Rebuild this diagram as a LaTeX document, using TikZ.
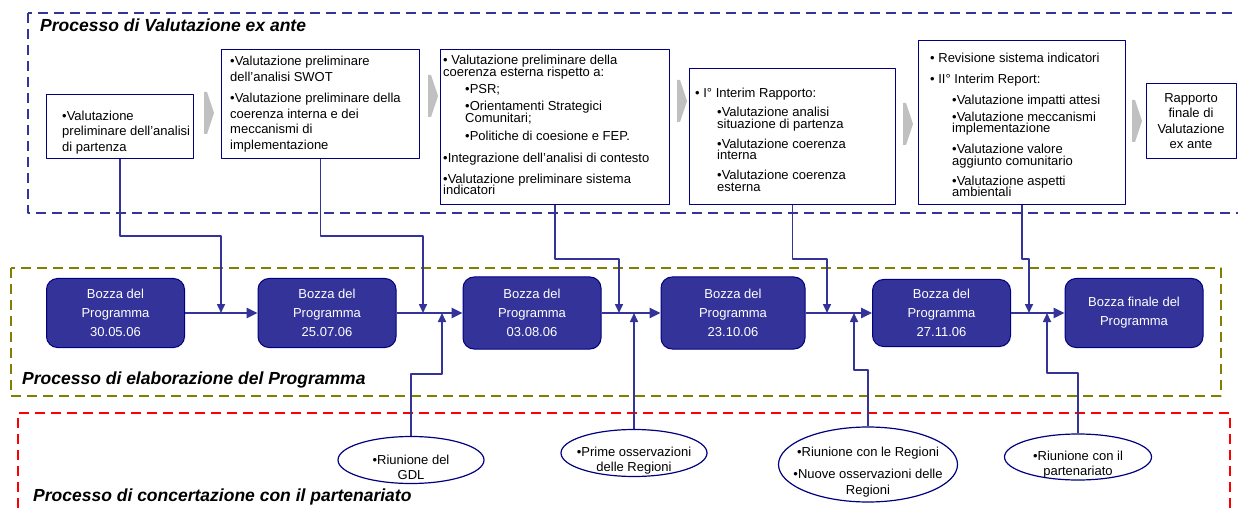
\documentclass[tikz,border=0pt]{standalone}
\usepackage{fontspec}
\setmainfont{Liberation Sans}
\usetikzlibrary{arrows.meta,shapes.geometric,positioning}
\definecolor{navy}{HTML}{000080}
\definecolor{viola}{HTML}{333399}
\definecolor{oliva}{HTML}{808000}
\definecolor{grigio}{HTML}{C0C0C0}
\setlength{\lineskiplimit}{-50pt}
\newcommand{\rientro}{\hspace*{22pt}}
\begin{document}
\begin{tikzpicture}[x=1pt,y=-1pt,line join=round,>={Triangle[length=9pt,width=8pt]},
	riquadro/.style={draw=navy,line width=1.2pt,fill=white,anchor=north west,inner sep=0pt},
	testo/.style={align=left,anchor=north west,inner sep=0pt,font=\fontsize{13}{15.5}\selectfont},
	stretto/.style={testo,font=\fontsize{13}{11.7}\selectfont},
	bozza/.style={draw=navy,fill=viola,line width=1pt,rounded corners=11pt,text=white,align=center,
		minimum width=138pt,minimum height=69pt,inner sep=0pt,font=\fontsize{13}{19}\selectfont},
	riunione/.style={ellipse,draw=navy,line width=1.2pt,fill=white,inner sep=0pt,minimum width=146pt,minimum height=47pt},
	dentro/.style={testo,align=center,anchor=center,yshift=-7.5pt},
	principale/.style={viola,line width=2.5pt,-{Triangle[length=11pt,width=10pt]}},
	ramo/.style={viola,line width=1.6pt,->},
	cornice/.style={line width=2pt,dash pattern=on 10pt off 6pt},
	titolo/.style={anchor=base west,inner sep=0pt,font=\fontsize{17.5}{20}\selectfont\bfseries\itshape}]
	\useasboundingbox (0,0) rectangle (1238,510);
	\clip (0,0) rectangle (1238,510);
	% cornici dei tre processi
	\draw[cornice,viola] (28,13) rectangle (1262,213);
	\draw[cornice,oliva] (11,268) rectangle (1221,396);
	\draw[cornice,red] (18,540) rectangle (1230,413);
	\node[titolo] (tv) at (40,32) {Processo di Valutazione ex ante};
	\node[titolo] (te) at (22,384) {Processo di elaborazione del Programma};
	\node[titolo] (tc) at (33,501) {Processo di concertazione con il partenariato};
	% valutazione ex ante
	\node[riquadro,minimum width=147pt,minimum height=64pt] (v1) at (46,94) {};
	\node[riquadro,minimum width=198pt,minimum height=109pt] (v2) at (221,49) {};
	\node[riquadro,minimum width=229pt,minimum height=155pt] (v3) at (440,49) {};
	\node[riquadro,minimum width=206pt,minimum height=136pt] (v4) at (689,68) {};
	\node[riquadro,minimum width=207pt,minimum height=164pt] (v5) at (918,40) {};
	\node[riquadro,minimum width=90pt,minimum height=75pt] (v6) at (1146,83) {};
	\node[testo] (t1) at (62,110.5) {•Valutazione\\preliminare dell’analisi\\di partenza};
	\node[testo] (t2) at (230,56) {•Valutazione preliminare\\dell’analisi SWOT\\[6pt]•Valutazione preliminare della\\coerenza interna e dei\\meccanismi di\\implementazione};
	\node[stretto] (t3) at (443,55) {• Valutazione preliminare della\\coerenza esterna rispetto a:\\[5.5pt]\rientro•PSR;\\[5.5pt]\rientro•Orientamenti Strategici\\\rientro Comunitari;\\[6.5pt]\rientro•Politiche di coesione e FEP.\\[10.5pt]•Integrazione dell’analisi di contesto\\[8.5pt]•Valutazione preliminare sistema\\indicatori};
	\node[stretto] (t4) at (695,87.5) {• I° Interim Rapporto:\\[8pt]\rientro•Valutazione analisi\\\rientro situazione di partenza\\[8pt]\rientro•Valutazione coerenza\\\rientro interna\\[8pt]\rientro•Valutazione coerenza\\\rientro esterna};
	\node[stretto] (t5) at (930,52.5) {• Revisione sistema indicatori\\[10pt]• II° Interim Report:\\[9pt]\rientro•Valutazione impatti attesi\\[5pt]\rientro•Valutazione meccanismi\\\rientro implementazione\\[9pt]\rientro•Valutazione valore\\\rientro aggiunto comunitario\\[8pt]\rientro•Valutazione aspetti\\\rientro ambientali};
	\node[testo,align=center,anchor=north] (t6) at (1191,93) {Rapporto\\finale di\\Valutazione\\ex ante};
	\foreach \cx/\cy in {204/92,428/75,677/80,903/103,1132/100}
		\fill[grigio] (\cx,\cy) -- ++(3,0) -- ++(7,21) -- ++(-7,21) -- ++(-3,0) -- cycle;
	% elaborazione del programma
	\node[bozza] (p1) at (115.5,313) {Bozza del\\Programma\\30.05.06};
	\node[bozza] (p2) at (327,313) {Bozza del\\Programma\\25.07.06};
	\node[bozza,minimum height=72pt] (p3) at (532,313) {Bozza del\\Programma\\03.08.06};
	\node[bozza,minimum width=144pt,minimum height=72pt] (p4) at (733,313) {Bozza del\\Programma\\23.10.06};
	\node[bozza,minimum height=67pt] (p5) at (941.5,313) {Bozza del\\Programma\\27.11.06};
	\node[bozza] (p6) at (1134,313) {Bozza finale del\\Programma};
	\foreach \a/\b in {p1/p2,p2/p3,p3/p4,p4/p5,p5/p6}
		\draw[principale] (\a) -- (\b);
	% concertazione
	\node[riunione] (r1) at (411,460) {};
	\node[riunione] (r2) at (634,453) {};
	\node[riunione,minimum width=179pt,minimum height=75pt] (r3) at (868,464.5) {};
	\node[riunione,minimum width=147pt,minimum height=46pt] (r4) at (1078,457) {};
	\node[dentro] (u1) at (r1) {•Riunione del\\GDL};
	\node[dentro] (u2) at (r2) {•Prime osservazioni\\delle Regioni};
	\node[dentro] (u3) at (r3) {•Riunione con le Regioni\\[7pt]•Nuove osservazioni delle\\Regioni};
	\node[dentro] (u4) at (r4) {•Riunione con il\\partenariato};
	% collegamenti
	\coordinate (k1) at (221,236); \coordinate (a1) at (221,313);
	\coordinate (k2) at (423,236); \coordinate (a2) at (423,313);
	\coordinate (k3) at (619,259); \coordinate (a3) at (619,313);
	\coordinate (k4) at (827,259); \coordinate (a4) at (827,313);
	\coordinate (k5) at (1029,259); \coordinate (a5) at (1029,313);
	\coordinate (k6) at (442,374); \coordinate (a6) at (442,313);
	\coordinate (a7) at (634,313);
	\coordinate (k8) at (854,370); \coordinate (a8) at (854,313);
	\coordinate (k9) at (1047,373); \coordinate (a9) at (1047,313);
	\draw[ramo] (v1.south) |- (k1) -- (a1);
	\draw[ramo] (v2.south) |- (k2) -- (a2);
	\draw[ramo] (v3.south) |- (k3) -- (a3);
	\draw[ramo] (v4.south) |- (k4) -- (a4);
	\draw[ramo] (v5.south) |- (k5) -- (a5);
	\draw[ramo] (r1.north) |- (k6) -- (a6);
	\draw[ramo] (r2.north) -- (a7);
	\draw[ramo] (r3.north) |- (k8) -- (a8);
	\draw[ramo] (r4.north) |- (k9) -- (a9);
\end{tikzpicture}
\end{document}
